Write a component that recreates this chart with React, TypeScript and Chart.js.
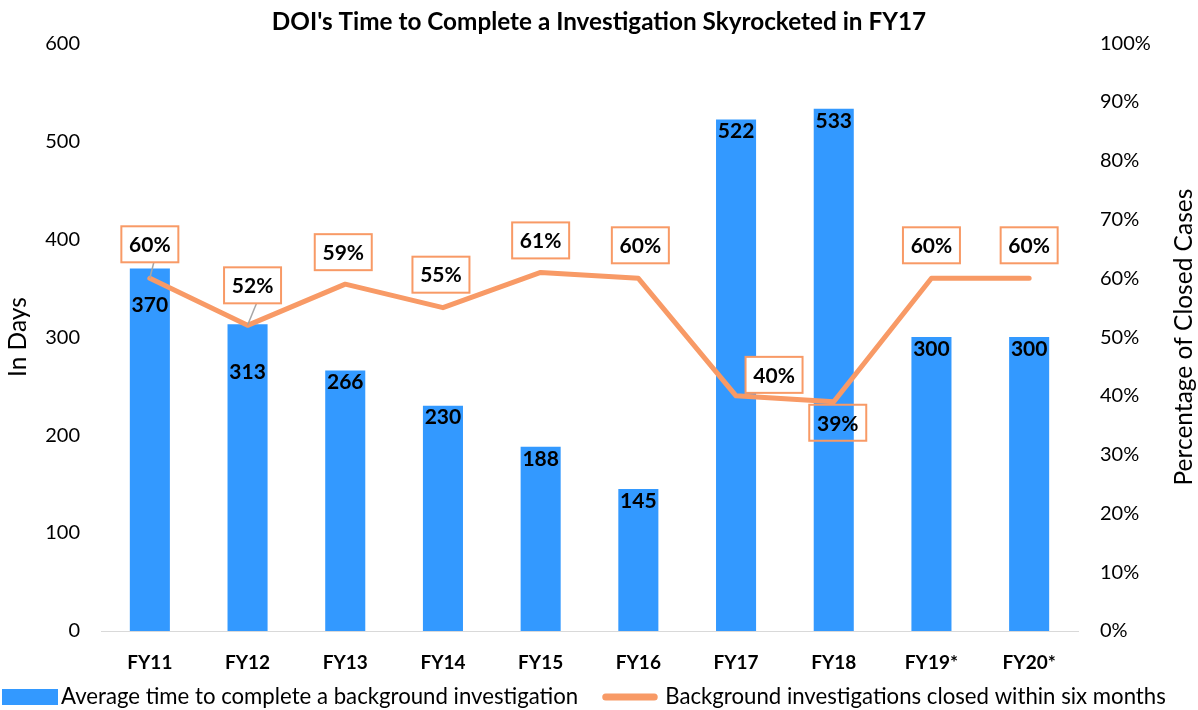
import React, { useEffect, useRef } from "react";
import { Chart, registerables } from "chart.js";

Chart.register(...registerables);

const chartTitle = "DOI's Time to Complete a Investigation Skyrocketed in FY17";
const categories = ["FY11", "FY12", "FY13", "FY14", "FY15", "FY16", "FY17", "FY18", "FY19*", "FY20*"];
const avgDays = [370, 313, 266, 230, 188, 145, 522, 533, 300, 300];
const pctClosed = [60, 52, 59, 55, 61, 60, 40, 39, 60, 60];
const barSeriesName = "Average time to complete a background investigation";
const lineSeriesName = "Background investigations closed within six months";
const leftAxisTitle = "In Days";
const rightAxisTitle = "Percentage of Closed Cases";

// label placement nudges (pixels), mirroring the hand-placed labels
const pctLabelDx = [0, 5, -2, -2, 0, 2, 38, 4, 0, 0];
const pctLabelDy = [-34, -40, -32, -33, -32, -33, -21, 21, -33, -33];
const pctLabelLeader = [true, true, false, false, false, false, false, false, false, false];
const barLabelDy = [37, 48, 12, 12, 12, 12, 12, 12, 12, 12];

const BLUE = "#3399FF";
const ORANGE = "#F89A66";
const FONT = "Lato";

const labelPlugin = {
  id: "customLabels",
  afterDatasetsDraw(chart: any) {
    const ctx = chart.ctx;
    const barMeta = chart.getDatasetMeta(0);
    const lineMeta = chart.getDatasetMeta(1);
    ctx.save();
    ctx.font = `bold 21px ${FONT}`;
    ctx.fillStyle = "#000";
    ctx.textAlign = "center";
    ctx.textBaseline = "middle";
    barMeta.data.forEach((bar: any, i: number) => {
      ctx.fillText(String(avgDays[i]), bar.x, bar.y + barLabelDy[i]);
    });
    lineMeta.data.forEach((pt: any, i: number) => {
      const text = pctClosed[i] + "%";
      const cx = pt.x + pctLabelDx[i];
      const cy = pt.y + pctLabelDy[i];
      const w = 57;
      const h = 36;
      const bottom = cy + h / 2;
      const top = cy - h / 2;
      if (pctLabelLeader[i]) {
        ctx.strokeStyle = "#A6A6A6";
        ctx.lineWidth = 1.5;
        ctx.beginPath();
        ctx.moveTo(cx + 4, bottom);
        ctx.lineTo(pt.x, pt.y);
        ctx.stroke();
      }
      if (pctLabelDy[i] < 0) {
        ctx.fillStyle = "#fff";
        ctx.fillRect(cx - w / 2, top, w, h);
      }
      ctx.strokeStyle = ORANGE;
      ctx.lineWidth = 2;
      ctx.strokeRect(cx - w / 2, top, w, h);
      ctx.fillStyle = "#000";
      ctx.font = `bold 21px ${FONT}`;
      ctx.fillText(text, cx, cy + 1);
    });
    ctx.restore();
  },
  afterDraw(chart: any) {
    const ctx = chart.ctx;
    ctx.save();
    // right axis title, reading bottom to top
    ctx.fillStyle = "#000";
    ctx.font = `24.5px ${FONT}`;
    ctx.textAlign = "center";
    ctx.textBaseline = "middle";
    const ca = chart.chartArea;
    ctx.translate(1184, (ca.top + ca.bottom) / 2);
    ctx.rotate(-Math.PI / 2);
    ctx.fillText(rightAxisTitle, 0, 0);
    ctx.restore();

    // legend
    ctx.save();
    const ly = 697;
    ctx.font = `22.2px ${FONT}`;
    ctx.textBaseline = "middle";
    ctx.textAlign = "left";
    ctx.fillStyle = BLUE;
    ctx.fillRect(2, ly - 8, 56, 16);
    ctx.fillStyle = "#000";
    ctx.fillText(barSeriesName, 61, ly);
    const w1 = ctx.measureText(barSeriesName).width;
    const x2 = 61 + w1 + 24;
    ctx.strokeStyle = ORANGE;
    ctx.lineWidth = 7;
    ctx.lineCap = "round";
    ctx.beginPath();
    ctx.moveTo(x2 + 3.5, ly);
    ctx.lineTo(x2 + 52, ly);
    ctx.stroke();
    ctx.fillText(lineSeriesName, x2 + 63, ly);
    ctx.restore();
  },
};

export default function App() {
  const ref = useRef<HTMLCanvasElement | null>(null);
  useEffect(() => {
    document.body.style.margin = "0";
    const canvas = ref.current;
    if (!canvas) return;
    const chart = new Chart(canvas, {
      type: "bar",
      data: {
        labels: categories,
        datasets: [
          {
            type: "bar",
            label: barSeriesName,
            data: avgDays,
            backgroundColor: BLUE,
            borderWidth: 0,
            yAxisID: "y",
            categoryPercentage: 1,
            barPercentage: 0.41,
            order: 2,
          },
          {
            type: "line",
            label: lineSeriesName,
            data: pctClosed,
            borderColor: ORANGE,
            backgroundColor: ORANGE,
            borderWidth: 5,
            borderCapStyle: "round",
            borderJoinStyle: "round",
            pointRadius: 0,
            tension: 0,
            yAxisID: "y1",
            order: 1,
          },
        ] as any,
      },
      options: {
        responsive: false,
        animation: false,
        maintainAspectRatio: false,
        layout: { padding: { left: 0, right: 0, top: 0, bottom: 38 } },
        plugins: {
          title: {
            display: true,
            text: chartTitle,
            color: "#000",
            font: { family: FONT, size: 24.3, weight: "bold" },
            padding: { top: 8, bottom: 6 },
          },
          legend: { display: false },
          tooltip: { enabled: false },
        },
        scales: {
          x: {
            grid: { display: false, drawTicks: false },
            border: { display: true, color: "#D9D9D9", width: 1 },
            ticks: {
              color: "#000",
              font: { family: FONT, size: 19, weight: "bold" },
              padding: 20,
              maxRotation: 0,
            },
            afterFit: (s: any) => {
              s.height = 41;
            },
          },
          y: {
            position: "left",
            min: 0,
            max: 600,
            grid: { display: false, drawTicks: false },
            border: { display: false },
            ticks: {
              stepSize: 100,
              color: "#000",
              font: { family: FONT, size: 20 },
              padding: 21,
            },
            title: {
              display: true,
              text: leftAxisTitle,
              color: "#000",
              font: { family: FONT, size: 24.5 },
              padding: { top: 3, bottom: 0 },
            },
            afterFit: (s: any) => {
              s.width = 101;
            },
          },
          y1: {
            position: "right",
            min: 0,
            max: 100,
            grid: { display: false, drawTicks: false },
            border: { display: false },
            ticks: {
              stepSize: 10,
              color: "#000",
              font: { family: FONT, size: 20 },
              padding: 22,
              callback: (v: any) => v + "%",
            },
            afterFit: (s: any) => {
              s.width = 120;
            },
          },
        },
      } as any,
      plugins: [labelPlugin],
    });
    return () => chart.destroy();
  }, []);
  return (
    <div style={{ width: 1198, height: 710 }}>
      <canvas ref={ref} width={1198} height={710} style={{ display: "block" }} />
    </div>
  );
}
